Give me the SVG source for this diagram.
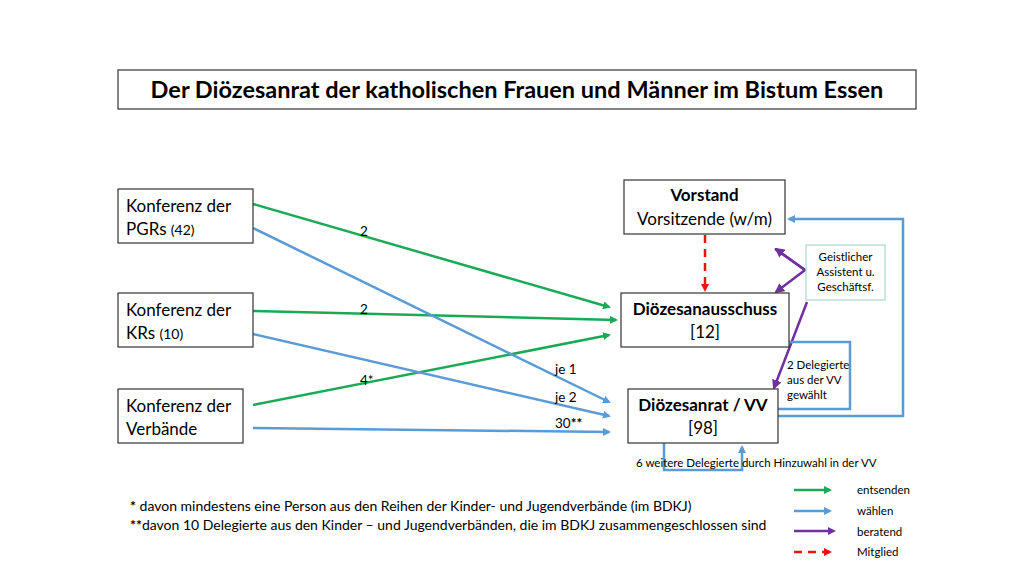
<svg xmlns="http://www.w3.org/2000/svg" width="1024" height="576" viewBox="0 0 1024 576">
<style>
text{font-family:Lato,"Open Sans","Liberation Sans",sans-serif;fill:#000}
.box{fill:#fff;stroke:#333;stroke-width:1.2}
.g{stroke:#1aaa55;stroke-width:2.5;fill:none}
.b{stroke:#5b9bd5;stroke-width:2.5;fill:none}
.p{stroke:#7030a0;stroke-width:2.5;fill:none}
.r{stroke:#ee1111;stroke-width:2.5;fill:none;stroke-dasharray:8,6}
.n{font-size:17px}
.s{font-size:11.5px}
</style>
<defs>
<marker id="mg" markerWidth="8" markerHeight="8" refX="6" refY="4" orient="auto" markerUnits="userSpaceOnUse"><path d="M0,0L8,4L0,8z" fill="#1aaa55"/></marker>
<marker id="mb" markerWidth="8" markerHeight="8" refX="6" refY="4" orient="auto" markerUnits="userSpaceOnUse"><path d="M0,0L8,4L0,8z" fill="#5b9bd5"/></marker>
<marker id="mp" markerWidth="10" markerHeight="10" refX="8" refY="5" orient="auto" markerUnits="userSpaceOnUse"><path d="M0,0L10,5L0,10z" fill="#7030a0"/></marker>
<marker id="mr" markerWidth="8" markerHeight="8" refX="6" refY="4" orient="auto" markerUnits="userSpaceOnUse"><path d="M0,0L8,4L0,8z" fill="#ee1111"/></marker>
</defs>
<rect width="1024" height="576" fill="#fff"/>
<g id="title"><rect class="box" x="118" y="70" width="798" height="39"/><text x="517" y="98" font-size="23.5" font-weight="bold" text-anchor="middle">Der Diözesanrat der katholischen Frauen und Männer im Bistum Essen</text></g>
<g id="connectors">
<line class="g" x1="253" y1="204" x2="609" y2="307" marker-end="url(#mg)"/>
<line class="g" x1="253" y1="311" x2="616" y2="320" marker-end="url(#mg)"/>
<line class="g" x1="253" y1="405" x2="609" y2="335" marker-end="url(#mg)"/>
<line class="b" x1="253" y1="228" x2="609" y2="402" marker-end="url(#mb)"/>
<line class="b" x1="253" y1="334" x2="609" y2="416" marker-end="url(#mb)"/>
<line class="b" x1="253" y1="428" x2="609" y2="432" marker-end="url(#mb)"/>
<line class="r" x1="705" y1="235" x2="705" y2="290" marker-end="url(#mr)"/>
<polyline class="p" points="775,249 805,270 776,292" marker-end="url(#mp)"/>
<line class="p" x1="805" y1="270" x2="776" y2="249" marker-end="url(#mp)"/>
<line class="p" x1="807" y1="302" x2="774" y2="388" marker-end="url(#mp)"/>
<polyline class="b" points="767,416 903,416 903,219 789,219" stroke-width="2" marker-end="url(#mb)"/>
<polyline class="b" points="770,409 850,409 850,342 773,342" stroke-width="2" marker-end="url(#mb)"/>
<polyline class="b" points="664,443 664,470 742,470 742,447" stroke-width="2" marker-end="url(#mb)"/>
<text x="360" y="236" font-size="13.5">2</text>
<text x="360" y="314" font-size="13.5">2</text>
<text x="360" y="385" font-size="13.5">4*</text>
<text x="555" y="374" font-size="13.5">je 1</text>
<text x="555" y="402" font-size="13.5">je 2</text>
<text x="555" y="428" font-size="13.5">30<tspan font-weight="bold">**</tspan></text>
<text x="787" y="369" class="s">2 Delegierte</text>
<text x="787" y="384" class="s">aus der VV</text>
<text x="787" y="399" class="s">gewählt</text>
<text x="636" y="467" class="s">6 weitere Delegierte durch Hinzuwahl in der VV</text>
</g>
<g id="pgr"><rect class="box" x="118" y="189" width="135" height="54"/><text x="126" y="212" class="n">Konferenz der</text><text x="126" y="235" class="n">PGRs <tspan font-size="14">(42)</tspan></text></g>
<g id="kr"><rect class="box" x="118" y="293" width="135" height="54"/><text x="126" y="316" class="n">Konferenz der</text><text x="126" y="339" class="n">KRs <tspan font-size="14">(10)</tspan></text></g>
<g id="verb"><rect class="box" x="118" y="389" width="125" height="54"/><text x="126" y="412" class="n">Konferenz der</text><text x="126" y="435" class="n">Verbände</text></g>
<g id="vorstand"><rect class="box" x="624" y="180" width="161" height="54"/><text x="704.5" y="201" class="n" font-weight="bold" text-anchor="middle">Vorstand</text><text x="704.5" y="225" class="n" text-anchor="middle">Vorsitzende (w/m)</text></g>
<g id="dioea"><rect class="box" x="621" y="293" width="168" height="54"/><text x="705" y="315" class="n" font-weight="bold" text-anchor="middle">Diözesanausschuss</text><text x="705" y="338" class="n" text-anchor="middle">[12]</text></g>
<g id="dior"><rect class="box" x="628" y="389" width="150" height="54"/><text x="703" y="411" class="n" font-weight="bold" text-anchor="middle">Diözesanrat / VV</text><text x="703" y="434" class="n" text-anchor="middle">[98]</text></g>
<g id="geist"><rect x="806" y="245" width="79" height="55" fill="#fff" stroke="#a8d8cc" stroke-width="1.2"/><text x="845.5" y="261" class="s" text-anchor="middle">Geistlicher</text><text x="845.5" y="276" class="s" text-anchor="middle">Assistent u.</text><text x="845.5" y="291" class="s" text-anchor="middle">Geschäftsf.</text></g>
<g id="footnote">
<text x="130" y="511" font-size="14"><tspan font-weight="bold">*</tspan> davon mindestens eine Person aus den Reihen der Kinder- und Jugendverbände (im BDKJ)</text>
<text x="130" y="530" font-size="14"><tspan font-weight="bold">**</tspan>davon 10 Delegierte aus den Kinder – und Jugendverbänden, die im BDKJ zusammengeschlossen sind</text>
</g>
<g id="legend">
<line class="g" x1="794" y1="490" x2="830" y2="490" marker-end="url(#mg)"/>
<line class="b" x1="794" y1="511" x2="830" y2="511" marker-end="url(#mb)"/>
<line class="p" x1="794" y1="531" x2="830" y2="531"/>
<path d="M828,527L836,531L828,535z" fill="#7030a0"/>
<line class="r" x1="794" y1="552" x2="830" y2="552" marker-end="url(#mr)"/>
<text x="857" y="494" class="s">entsenden</text>
<text x="857" y="515" class="s">wählen</text>
<text x="857" y="536" class="s">beratend</text>
<text x="857" y="556" class="s">Mitglied</text>
</g>
</svg>
